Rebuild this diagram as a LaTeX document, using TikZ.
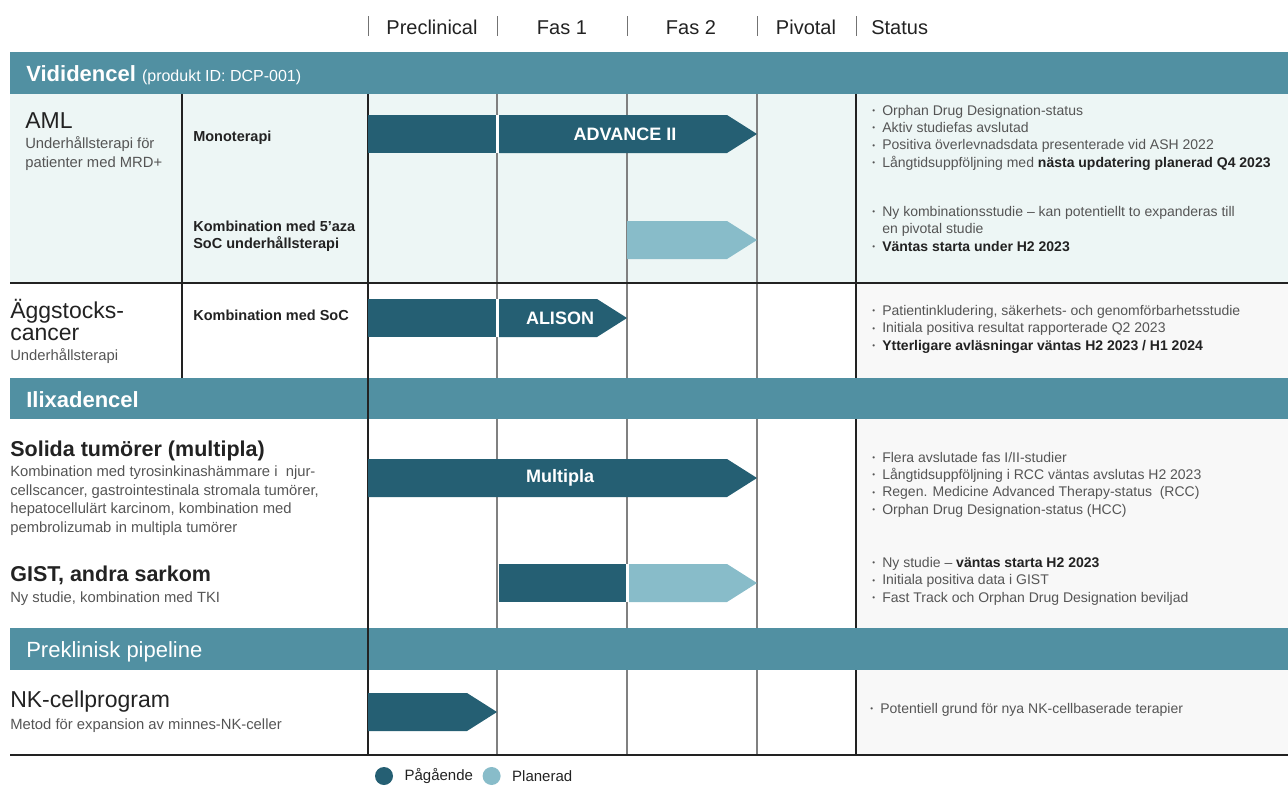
\documentclass[tikz,border=0pt]{standalone}
\usepackage{fontspec}
\setmainfont{Liberation Sans}
\usetikzlibrary{positioning}

\definecolor{bandteal}{HTML}{5190A2}
\definecolor{ongoing}{HTML}{255F73}
\definecolor{planned}{HTML}{88BCC9}
\definecolor{mintbg}{HTML}{EDF6F5}
\definecolor{statusbg}{HTML}{F8F8F8}
\definecolor{inkdark}{HTML}{222222}
\definecolor{inkgrey}{HTML}{555555}

\newcommand{\sbul}{\makebox[10pt][l]{\raisebox{1.5pt}{\fontsize{8}{8}\selectfont\textbullet}}}
\newcommand{\statbold}[1]{\textcolor{inkdark}{\bfseries #1}}

\begin{document}
\begin{tikzpicture}[
        x = 1pt, y = -1pt, % one unit per pixel, y going down
        node distance = 10pt,
        semithick
    ]

    % multi-line nodes sit on the baseline of their last line
    \tikzstyle{every node}=[inner sep = 0pt, text = inkdark]
    \tikzstyle{phaselabel}=[anchor = base, font = \fontsize{20}{20}\selectfont]
    \tikzstyle{bandtitle}=[anchor = base west, text = white, font = \fontsize{22}{22}\selectfont]
    \tikzstyle{disease}=[anchor = base west, align = left, font = \fontsize{23}{22}\selectfont]
    \tikzstyle{diseasebold}=[disease, font = \bfseries\fontsize{21.5}{22}\selectfont]
    \tikzstyle{diseasesub}=[anchor = base west, align = left, text = inkgrey, font = \fontsize{14.8}{18.4}\selectfont]
    \tikzstyle{armlabel}=[anchor = base west, align = left, font = \bfseries\fontsize{14.5}{17}\selectfont]
    \tikzstyle{statustext}=[anchor = base west, align = left, text = inkgrey, font = \fontsize{14}{17.3}\selectfont]
    \tikzstyle{bartext}=[text = white, font = \bfseries\fontsize{18}{18}\selectfont]
    \tikzstyle{gridline}=[draw = inkdark, line width = 1.3pt]
    \tikzstyle{gridlight}=[draw = black!50, line width = 1.3pt]
    \tikzstyle{headtick}=[draw = black!55, line width = 1pt]
    \tikzstyle{legenddot}=[circle, minimum size = 18pt]
    \tikzstyle{legendtext}=[font = \fontsize{15}{15}\selectfont]

    \useasboundingbox (0,0) rectangle (1288,785);

    % phase header
    \draw[headtick] (368,16) -- (368,36); \draw[headtick] (497,16) -- (497,36);
    \draw[headtick] (627,16) -- (627,36); \draw[headtick] (757,16) -- (757,36);
    \draw[headtick] (856,16) -- (856,36);
    \node (preclin) [phaselabel] at (432,34) {Preclinical};
    \node (fas1) [phaselabel] at (562,34) {Fas 1};
    \node (fas2) [phaselabel] at (691,34) {Fas 2};
    \node (pivotal) [phaselabel] at (806,34) {Pivotal};
    \node (status) [phaselabel, anchor = base west] at (871,34) {Status};

    % section backgrounds
    \fill[mintbg] (10,94) rectangle (1288,283);
    \fill[statusbg] (856,283) rectangle (1288,378);
    \fill[statusbg] (856,419) rectangle (1288,628);
    \fill[statusbg] (856,670) rectangle (1288,755);

    % grid
    \draw[gridline] (182,94) -- (182,378);
    \draw[gridlight] (497,94) -- (497,755); \draw[gridlight] (627,94) -- (627,755);
    \draw[gridlight] (757,94) -- (757,755); \draw[gridline] (856,94) -- (856,755);

    % bands
    \fill[bandteal] (10,52) rectangle (1288,94);
    \fill[bandteal] (10,378) rectangle (1288,419);
    \fill[bandteal] (10,628) rectangle (1288,670);
    \draw[gridline] (368,94) -- (368,755);
    \draw[gridline] (10,283) -- (1288,283);
    \draw[gridline] (10,755) -- (1288,755);

    \node (vidi) [bandtitle] at (26,81) {\textbf{Vididencel} {\fontsize{16}{16}\selectfont(produkt ID: DCP-001)}};
    \node (ilixa) [bandtitle] at (26,407) {\textbf{Ilixadencel}};
    \node (preklin) [bandtitle] at (26,657) {Preklinisk pipeline};

    % bars
    \fill[ongoing] (368,115) rectangle (496,153);
    \fill[ongoing] (499,115) -- (727,115) -- (757,134) -- (727,153) -- (499,153) -- cycle;
    \fill[white] (496,115) rectangle (499,153);
    \node (advance) [bartext] at (625,134) {ADVANCE II};
    \fill[planned] (627,221) -- (727,221) -- (757,240) -- (727,259) -- (627,259) -- cycle;

    \fill[ongoing] (368,299) rectangle (496,337);
    \fill[ongoing] (499,299) -- (597,299) -- (627,318) -- (597,337) -- (499,337) -- cycle;
    \fill[white] (496,299) rectangle (499,337);
    \node (alison) [bartext] at (560,318) {ALISON};

    \fill[ongoing] (368,459) -- (727,459) -- (757,478) -- (727,497) -- (368,497) -- cycle;
    \node (multipla) [bartext] at (560,478) {Multipla};

    \fill[ongoing] (499,564) rectangle (626,602);
    \fill[planned] (629,564) -- (727,564) -- (757,583) -- (727,602) -- (629,602) -- cycle;
    \fill[white] (626,564) rectangle (629,602);

    \fill[ongoing] (368,693) -- (467,693) -- (497,712) -- (467,731) -- (368,731) -- cycle;

    % indications and arms
    \node (aml) [disease] at (25,128) {AML};
    \node (amlsub) [diseasesub] at (25,167) {Underhållsterapi för\\patienter med MRD+};
    \node (mono) [armlabel] at (193,141) {Monoterapi};
    \node (amlkomb) [armlabel] at (193,248) {Kombination med 5’aza\\SoC underhållsterapi};
    \node (ovarian) [disease] at (10,340) {Äggstocks-\\cancer};
    \node (ovariansub) [diseasesub] at (10,360) {Underhållsterapi};
    \node (ovariankomb) [armlabel] at (193,320) {Kombination med SoC};
    \node (solida) [diseasebold] at (10,456) {Solida tumörer (multipla)};
    \node (solidasub) [diseasesub] at (10,532) {Kombination med tyrosinkinashämmare i \ njur-\\cellscancer, gastrointestinala stromala tumörer,\\hepatocellulärt karcinom, kombination med\\pembrolizumab in multipla tumörer};
    \node (gist) [diseasebold] at (10,581) {GIST, andra sarkom};
    \node (gistsub) [diseasesub] at (10,602) {Ny studie, kombination med TKI};
    \node (nk) [disease] at (10,707) {NK-cellprogram};
    \node (nksub) [diseasesub] at (10,729) {Metod för expansion av minnes-NK-celler};

    % status column
    \node (amlmonostatus) [statustext] at (872,167) {\sbul Orphan Drug Designation-status\\
        \sbul Aktiv studiefas avslutad\\
        \sbul Positiva överlevnadsdata presenterade vid ASH 2022\\
        \sbul Långtidsuppföljning med \statbold{nästa updatering planerad Q4 2023}};
    \node (amlkombstatus) [statustext] at (872,251) {\sbul Ny kombinationsstudie – kan potentiellt to expanderas till\\
        \hspace*{10pt}en pivotal studie\\
        \sbul \statbold{Väntas starta under H2 2023}};
    \node (ovarianstatus) [statustext] at (872,350) {\sbul Patientinkludering, säkerhets- och genomförbarhetsstudie\\
        \sbul Initiala positiva resultat rapporterade Q2 2023\\
        \sbul \statbold{Ytterligare avläsningar väntas H2 2023 / H1 2024}};
    \node (solidastatus) [statustext] at (872,514) {\sbul Flera avslutade fas I/II-studier\\
        \sbul Långtidsuppföljning i RCC väntas avslutas H2 2023\\
        \sbul Regen. Medicine Advanced Therapy-status \ (RCC)\\
        \sbul Orphan Drug Designation-status (HCC)};
    \node (giststatus) [statustext] at (872,602) {\sbul Ny studie – \statbold{väntas starta H2 2023}\\
        \sbul Initiala positiva data i GIST\\
        \sbul Fast Track och Orphan Drug Designation beviljad};
    \node (nkstatus) [statustext] at (870,713) {\sbul Potentiell grund för nya NK-cellbaserade terapier};

    % legend
    \node (ongoingdot) [legenddot, fill = ongoing] at (384,776) {};
    \node (ongoinglabel) [legendtext, right = 11pt of ongoingdot] {Pågående};
    \node (planneddot) [legenddot, fill = planned, right = 9pt of ongoinglabel] {};
    \node (plannedlabel) [legendtext, right = 11pt of planneddot] {Planerad};

\end{tikzpicture}
\end{document}
